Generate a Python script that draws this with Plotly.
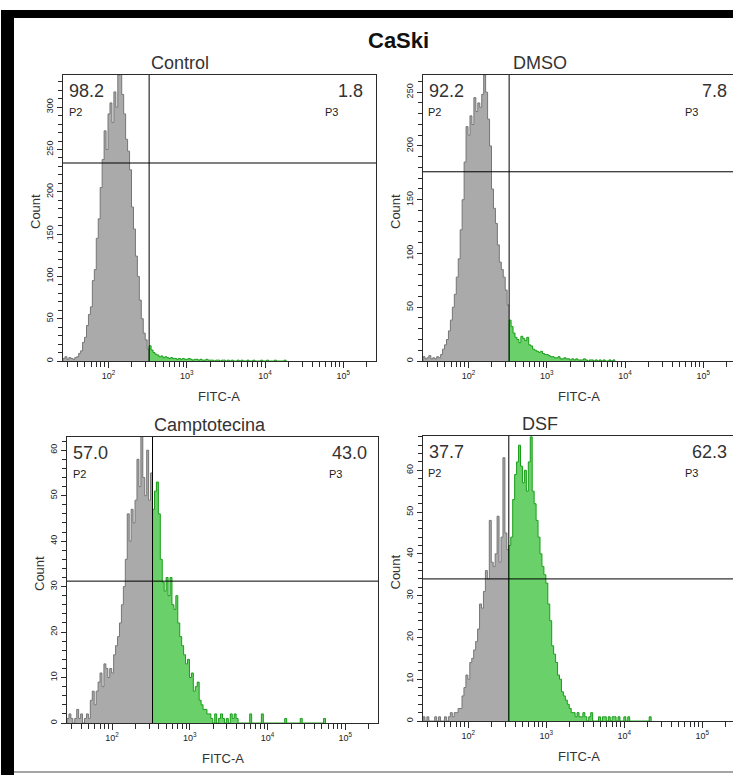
import numpy as np
import plotly.graph_objects as go

# ---------------- data (histogram counts per log-FITC bin) ----------------
BIN_START_LOG = 1.42      # first bin left edge, log10(FITC-A)
BIN_STEP_LOG = 0.025      # bin width in decades
GATE_BIN = 44             # bins >= this index belong to gate P3

control_counts = [
    3, 5, 2, 4, 3, 2, 4, 5, 9, 12,
    22, 28, 42, 55, 64, 95, 108, 145, 168, 205,
    238, 272, 250, 292, 305, 282, 318, 300, 338, 345,
    315, 292, 262, 248, 226, 182, 156, 124, 100, 72,
    50, 33, 25, 14,
    18, 13, 10, 8, 7, 5, 6, 4, 5, 4,
    3, 4, 3, 3, 2, 3, 2, 3, 2, 2,
    3, 2, 1, 2, 2, 1, 2, 1, 1, 2,
    1, 1, 1, 0, 1, 1, 0, 1, 1, 0,
    1, 0, 1, 0, 0, 1, 0, 1, 0, 0,
    1, 0, 0, 1, 0, 0, 0, 1, 0, 0,
    1, 0, 0, 0, 1, 0, 0, 0, 0, 1,
]

dmso_counts = [
    4, 2, 3, 5, 2, 3, 2, 4, 3, 6,
    11, 15, 20, 28, 38, 50, 62, 78, 95, 122,
    150, 185, 218, 210, 228, 220, 245, 232, 240, 236,
    248, 266, 250, 225, 200, 160, 142, 128, 108, 92,
    85, 78, 66, 52,
    38, 32, 26, 22, 20, 17, 23, 21, 19, 22,
    15, 14, 11, 10, 9, 8, 9, 7, 6, 6,
    5, 4, 4, 3, 3, 4, 2, 2, 3, 2,
    2, 1, 2, 1, 2, 1, 1, 1, 2, 1,
    0, 1, 1, 0, 1, 0, 1, 0, 1, 0,
    0, 1, 0, 1,
]

campto_counts = [
    1, 2, 1, 0, 1, 3, 1, 2, 0, 1,
    2, 1, 5, 7, 4, 7, 9, 11, 8, 13,
    12, 10, 12, 11, 15, 17, 19, 22, 26, 30,
    36, 46, 40, 47, 44, 49, 58, 52, 63, 54,
    50, 60, 49, 55,
    47, 51, 53, 46, 36, 31, 29, 32, 28, 32,
    26, 25, 28, 22, 19, 17, 15, 13, 14, 10,
    11, 7, 8, 9, 5, 4, 3, 3, 2, 2,
    1, 0, 2, 0, 1, 2, 1, 0, 1, 0,
    2, 1, 2, 1, 0, 0, 0, 0, 0, 0,
    2, 0, 0, 0, 0, 0, 2, 0, 0, 0,
    0, 0, 0, 0, 0, 0, 0, 0, 1, 0,
    0, 0, 0, 0, 0, 0, 1, 0, 0, 0,
    0, 0, 0, 0, 0, 0, 0, 0, 1,
]

dsf_counts = [
    1, 0, 1, 0, 0, 0, 1, 0, 1, 0,
    0, 1, 0, 1, 2, 1, 2, 2, 3, 3,
    6, 8, 11, 10, 14, 15, 17, 19, 22, 28,
    27, 31, 36, 34, 48, 38, 37, 40, 49, 38,
    44, 63, 45, 41,
    42, 44, 53, 59, 62, 66, 61, 57, 60, 55,
    62, 68, 55, 52, 48, 44, 40, 37, 35, 33,
    28, 24, 18, 16, 14, 11, 10, 7, 6, 5,
    4, 3, 2, 2, 1, 2, 1, 1, 2, 1,
    0, 1, 2, 0, 0, 0, 1, 0, 1, 1,
    0, 1, 0, 1, 1, 0, 1, 0, 0, 1,
    0, 1, 0, 0, 0, 0, 0, 0, 0, 0,
    0, 0, 1,
]

panel_titles = ["Control", "DMSO", "Camptotecina", "DSF"]
p2_percent = ["98.2", "92.2", "57.0", "37.7"]
p3_percent = ["1.8", "7.8", "43.0", "62.3"]
count_gate = [234, 176, 31.2, 34]      # horizontal marker line (Count)
count_max = [338, 266, 62.9, 68.2]     # y-axis upper limit
count_label_step = [50, 50, 10, 10]
count_tick_step = [10, 10, 2, 2]
decade_exponents = [2, 3, 4, 5]
decade_labels = ["10<sup>2</sup>", "10<sup>3</sup>", "10<sup>4</sup>", "10<sup>5</sup>"]
all_counts = [control_counts, dmso_counts, campto_counts, dsf_counts]

# ---------------- layout geometry (pixels) ----------------
W, H = 733, 775
def px(x):
    return x / W
def py(y):
    return 1 - y / H

geom = [
    dict(x0=63, x1=376, y0=75, y1=361, dec=78.3, left=True),
    dict(x0=423, x1=733, y0=75, y1=361, dec=78.3, left=False),
    dict(x0=67, x1=378, y0=437, y1=723, dec=77.75, left=True),
    dict(x0=423, x1=733, y0=436, y1=721, dec=78.0, left=False),
]

FONT = "Liberation Sans, Arial, sans-serif"
GRAY_FILL = "rgb(170,170,170)"
GRAY_LINE = "rgb(118,118,118)"
GREEN_FILL = "rgb(106,208,106)"
GREEN_LINE = "rgb(24,158,24)"
AXC = "#2a2a2a"

# major ticks at decades, minor ticks at 2..9 x 10^n
major_vals = [10 ** e for e in decade_exponents]
minor_vals = []
for e in range(1, 6):
    for m in range(2, 10):
        v = m * 10 ** e
        if 30 <= v <= 200000:
            minor_vals.append(v)

gate_value = 10 ** (BIN_START_LOG + GATE_BIN * BIN_STEP_LOG)

fig = go.Figure()
shapes, annos = [], []

for k in range(4):
    n = k + 1
    sfx = "" if n == 1 else str(n)
    g = geom[k]
    counts = all_counts[k]
    nb = len(counts)
    edges = [10 ** (BIN_START_LOG + i * BIN_STEP_LOG) for i in range(nb + 1)]

    # gray part (P2)
    xs = [edges[0]] + edges[0:GATE_BIN] + [edges[GATE_BIN]]
    ys = [0] + counts[0:GATE_BIN] + [counts[GATE_BIN - 1]]
    fig.add_trace(go.Scatter(x=xs, y=ys, mode="lines", line=dict(color=GRAY_LINE, width=1, shape="hv"),
                             fill="tozeroy", fillcolor=GRAY_FILL, xaxis="x" + sfx, yaxis="y" + sfx,
                             hoverinfo="skip", showlegend=False))
    # green part (P3)
    xs = [edges[GATE_BIN]] + edges[GATE_BIN:nb] + [edges[nb]]
    ys = [0] + counts[GATE_BIN:nb] + [0]
    fig.add_trace(go.Scatter(x=xs, y=ys, mode="lines", line=dict(color=GREEN_LINE, width=1, shape="hv"),
                             fill="tozeroy", fillcolor=GREEN_FILL, xaxis="x" + sfx, yaxis="y" + sfx,
                             hoverinfo="skip", showlegend=False))

    width_px = g["x1"] - g["x0"]
    xr = [BIN_START_LOG, BIN_START_LOG + width_px / g["dec"]]
    y_major = list(range(0, int(count_max[k]) + 1, count_label_step[k]))
    y_minor = [v for v in range(0, int(count_max[k]) + 1, count_tick_step[k]) if v % count_label_step[k] != 0]

    fig.update_layout(**{
        "xaxis" + sfx: dict(domain=[px(g["x0"]), px(g["x1"])], anchor="y" + sfx, type="log", range=xr,
                            tickmode="array", tickvals=major_vals, ticktext=decade_labels,
                            ticks="outside", ticklen=6, tickwidth=1, tickcolor=AXC,
                            minor=dict(tickmode="array", tickvals=minor_vals, ticks="outside", ticklen=5,
                                       tickwidth=1, tickcolor=AXC, showgrid=False),
                            showline=True, linecolor=AXC, linewidth=1, mirror=True,
                            showgrid=False, zeroline=False,
                            tickfont=dict(family=FONT, size=9, color="#222")),
        "yaxis" + sfx: dict(domain=[py(g["y1"]), py(g["y0"])], anchor="x" + sfx, range=[0, count_max[k]],
                            tickmode="array", tickvals=y_major, ticktext=[str(v) for v in y_major],
                            tickangle=-90, ticks="outside", ticklen=5, tickwidth=1, tickcolor=AXC,
                            minor=dict(tickmode="array", tickvals=y_minor, ticks="outside", ticklen=4,
                                       tickwidth=1, tickcolor=AXC, showgrid=False),
                            showline=True, linecolor=AXC, linewidth=1,
                            mirror=g["left"], showgrid=False, zeroline=False,
                            tickfont=dict(family=FONT, size=9, color="#222")),
    })

    xdom = "x" + sfx + " domain"
    ydom = "y" + sfx + " domain"
    shapes.append(dict(type="line", xref="x" + sfx, yref=ydom, x0=gate_value, x1=gate_value, y0=0, y1=1,
                       line=dict(color="black", width=1)))
    shapes.append(dict(type="line", xref=xdom, yref="y" + sfx, x0=0, x1=1, y0=count_gate[k], y1=count_gate[k],
                       line=dict(color="black", width=1)))

    cx = g["x0"] + 117
    right_px = g["x0"] + 302 if g["left"] else g["x0"] + 306
    # panel title
    annos.append(dict(text=panel_titles[k], x=px(cx + (26 if k == 2 else 0)), y=py(g["y0"] - 12),
                      xref="paper", yref="paper", showarrow=False, xanchor="center", yanchor="middle",
                      font=dict(family=FONT, size=18, color="#333")))
    # percentages
    annos.append(dict(text=p2_percent[k], x=px(g["x0"] + 4), y=py(g["y0"] + 16), xref="paper", yref="paper",
                      showarrow=False, xanchor="left", yanchor="middle",
                      font=dict(family=FONT, size=18, color="#333")))
    annos.append(dict(text="P2", x=px(g["x0"] + 12), y=py(g["y0"] + 37), xref="paper", yref="paper",
                      showarrow=False, xanchor="center", yanchor="middle",
                      font=dict(family=FONT, size=11, color="#222")))
    annos.append(dict(text=p3_percent[k], x=px(right_px), y=py(g["y0"] + 16), xref="paper", yref="paper",
                      showarrow=False, xanchor="right", yanchor="middle",
                      font=dict(family=FONT, size=18, color="#333")))
    annos.append(dict(text="P3", x=px(g["x0"] + 268), y=py(g["y0"] + 37), xref="paper", yref="paper",
                      showarrow=False, xanchor="center", yanchor="middle",
                      font=dict(family=FONT, size=11, color="#222")))
    # axis titles
    annos.append(dict(text="FITC-A", x=px(g["x0"] + 156), y=py(g["y1"] + 35), xref="paper", yref="paper",
                      showarrow=False, xanchor="center", yanchor="middle",
                      font=dict(family=FONT, size=13, color="#333")))
    annos.append(dict(text="Count", x=px(g["x0"] - 28), y=py((g["y0"] + g["y1"]) / 2 - 6), xref="paper",
                      yref="paper", showarrow=False, textangle=-90, xanchor="center", yanchor="middle",
                      font=dict(family=FONT, size=13, color="#333")))

# main title
annos.append(dict(text="<b>CaSki</b>", x=px(398), y=py(41), xref="paper", yref="paper", showarrow=False,
                  xanchor="center", yanchor="middle", font=dict(family=FONT, size=22, color="#111")))

# picture frame
shapes.append(dict(type="rect", xref="paper", yref="paper", x0=px(1), x1=px(14), y0=0, y1=py(10),
                   fillcolor="black", line=dict(width=0)))
shapes.append(dict(type="rect", xref="paper", yref="paper", x0=px(1), x1=1, y0=py(18), y1=py(10),
                   fillcolor="black", line=dict(width=0)))
shapes.append(dict(type="line", xref="paper", yref="paper", x0=px(14), x1=1, y0=py(772), y1=py(772),
                   line=dict(color="#888", width=1.5)))

fig.update_layout(width=W, height=H, autosize=False, margin=dict(l=0, r=0, t=0, b=0),
                  paper_bgcolor="white", plot_bgcolor="white", shapes=shapes, annotations=annos,
                  showlegend=False)

fig.write_html("out.html", config={"displayModeBar": False},
               post_script="document.body.style.margin='0';document.body.style.overflow='hidden';")
